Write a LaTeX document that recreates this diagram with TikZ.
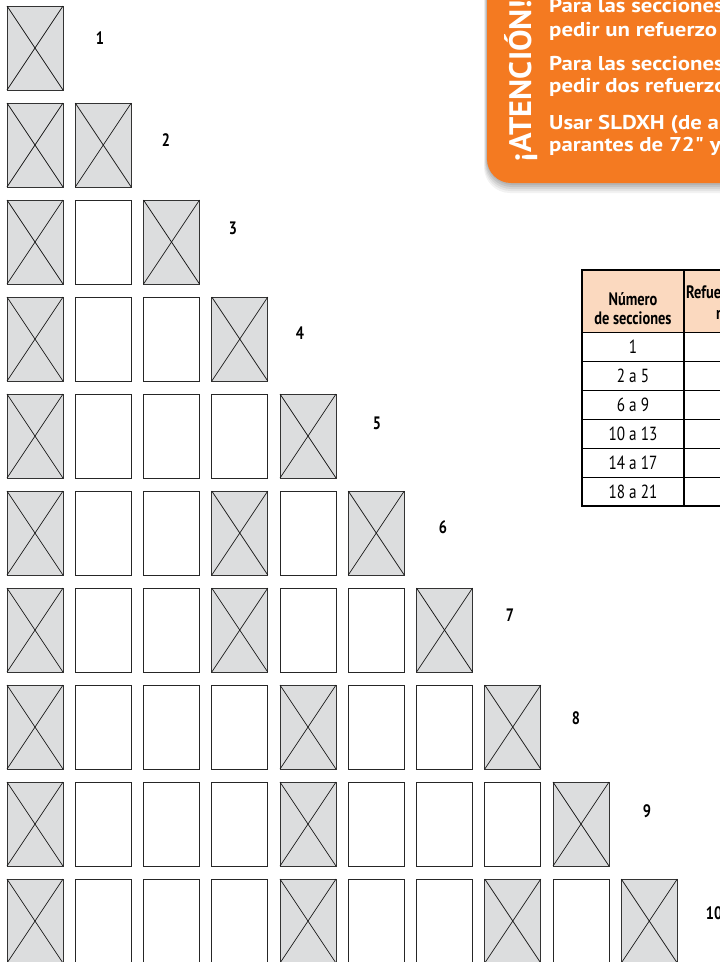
\documentclass[tikz,border=0pt]{standalone}
\usepackage{fontspec}
\setmainfont{PT Sans}
\newfontfamily\cond[FakeStretch=0.8]{PT Sans}
\newfontfamily\wide[FakeStretch=1.14]{PT Sans}
\newfontfamily\wideb[FakeStretch=1.04]{PT Sans}
\usetikzlibrary{calc}
\definecolor{boxgray}{HTML}{DCDDDE}
\definecolor{warnorange}{HTML}{F47A21}
\definecolor{peach}{HTML}{FBD9BF}
\tikzset{
  cell/.style={draw=black!85, fill=white, line width=1pt, minimum width=56pt, minimum height=84pt, inner sep=0pt, outer sep=0pt, anchor=north west},
  xcell/.style={cell, draw=black!80, fill=boxgray},
  diag/.style={draw=black!90, line width=0.7pt},
  lbl/.style={font=\cond\bfseries\fontsize{18}{20}\selectfont, inner sep=0pt},
  warn/.style={font=\wide\bfseries\fontsize{20}{22}\selectfont, text=white, anchor=base west, inner sep=0pt},
  tbl/.style={font=\cond\fontsize{19}{20}\selectfont, inner sep=0pt},
  tblh/.style={font=\cond\bfseries\fontsize{18}{20}\selectfont, inner sep=0pt, align=center},
}
\begin{document}
\begin{tikzpicture}[x=1pt,y=1pt]
\useasboundingbox (0,0) rectangle (720,-962);
\clip (0,0) rectangle (720,-962);

% ---- warning box: shadow layers
\foreach \d/\o in {10/0.05,8/0.06,6/0.07,4/0.08,2/0.08}{
  \fill[black, opacity=\o, rounded corners=26pt] (487-0.3*\d,40) rectangle (820,-183-\d);
}
\fill[warnorange, rounded corners=24pt] (487,40) rectangle (820,-183);
\node[font=\wideb\bfseries\fontsize{31}{31}\selectfont, text=white, rotate=90, anchor=base west, inner sep=0pt] (att) at (531,-162) {¡ATENCIÓN!};
\node[warn] (w1) at (549,-12) {Para las secciones};
\node[warn] (w2) at (549,-36) {pedir un refuerzo};
\node[warn] (w3) at (549,-70) {Para las secciones};
\node[warn] (w4) at (549,-92) {pedir dos refuerzos};
\node[warn] (w5) at (549,-129) {Usar SLDXH (de a};
\node[warn] (w6) at (549,-151) {parantes de 72" y};

% ---- table
\fill[peach] (582,-270) rectangle (800,-332);
\foreach \yy in {332,361,390,419,448,477}{
  \draw[line width=0.9pt] (582,-\yy) -- (800,-\yy);
}
\draw[line width=1.1pt] (684,-270) -- (684,-506);
\draw[line width=2.2pt] (800,-270) -- (582,-270) -- (582,-506) -- (800,-506);
\node[tblh] (th1) at (633,-309) {Número\\[-1pt]de secciones};
\node[tblh, anchor=base west] (th2) at (686,-298) {Refuerzos centrales};
\node[tblh, anchor=base west] (th3) at (716,-319) {necesarios};
\node[tbl] (t1) at (633,-347) {1};
\node[tbl] (t2) at (633,-376) {2 a 5};
\node[tbl] (t3) at (633,-405) {6 a 9};
\node[tbl] (t4) at (633,-434) {10 a 13};
\node[tbl] (t5) at (633,-463) {14 a 17};
\node[tbl] (t6) at (633,-492) {18 a 21};

% ---- section boxes
\foreach \r in {1,...,10}{
  \foreach \c in {1,...,\r}{
    \node[cell] (b-\r-\c) at ({7+68.25*(\c-1)},{-6-97*(\r-1)}) {};
  }
}
\foreach \r/\c in {1/1,2/1,2/2,3/1,3/3,4/1,4/4,5/1,5/5,6/1,6/4,6/6,7/1,7/4,7/7,8/1,8/5,8/8,9/1,9/5,9/9,10/1,10/5,10/8,10/10}{
  \node[xcell] (x-\r-\c) at ({7+68.25*(\c-1)},{-6-97*(\r-1)}) {};
  \draw[diag] (x-\r-\c.north west) -- (x-\r-\c.south east);
  \draw[diag] (x-\r-\c.north east) -- (x-\r-\c.south west);
}

% ---- row labels
\node[lbl] (n1) at (100,-38) {1};
\node[lbl] (n2) at (166,-140) {2};
\node[lbl] (n3) at (233,-228) {3};
\node[lbl] (n4) at (300,-333) {4};
\node[lbl] (n5) at (377,-423) {5};
\node[lbl] (n6) at (443,-527) {6};
\node[lbl] (n7) at (510,-615) {7};
\node[lbl] (n8) at (576,-718) {8};
\node[lbl] (n9) at (647,-811) {9};
\node[lbl] (n10) at (714,-913) {10};
\end{tikzpicture}
\end{document}
